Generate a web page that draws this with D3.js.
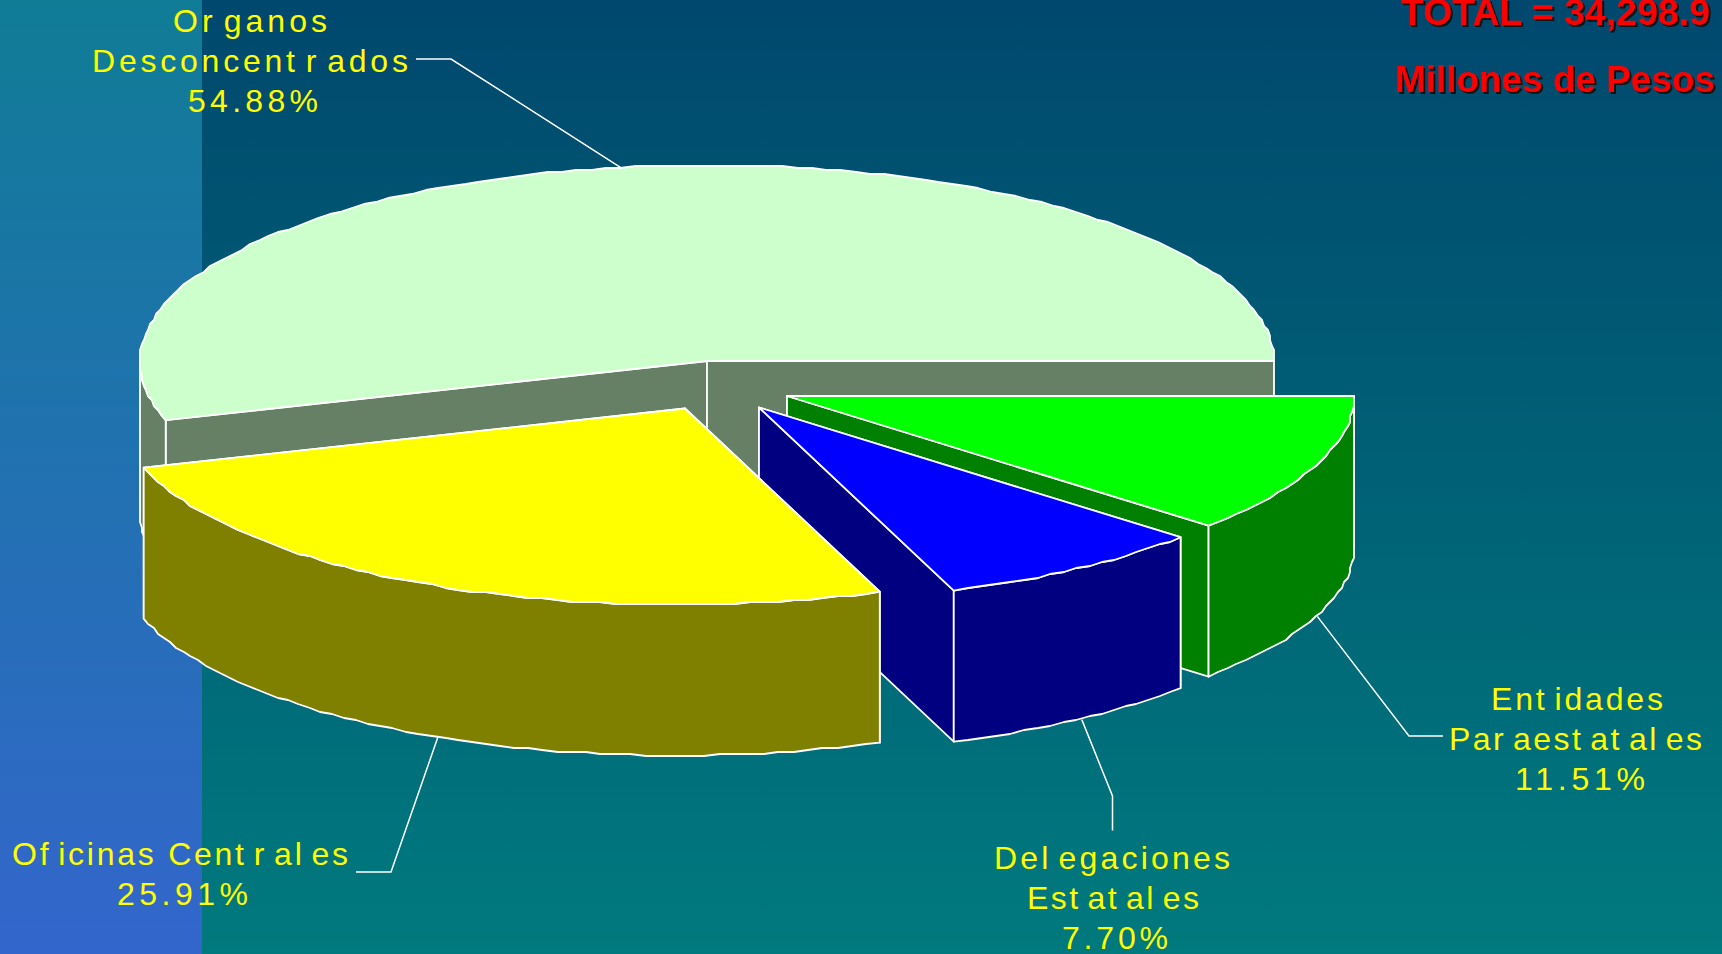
<!DOCTYPE html>
<html>
<head>
<meta charset="utf-8">
<script src="https://cdn.jsdelivr.net/npm/d3@7/dist/d3.min.js"></script>
<style>
html,body{margin:0;padding:0;background:#00607a;overflow:hidden}
svg{display:block}
text{font-family:"Liberation Sans",Arial,sans-serif}
</style>
</head>
<body>
<svg id="c" width="1722" height="954"></svg>
<script>
// ---- data ----
const categories = ["Organos Desconcentrados", "Oficinas Centrales", "Delegaciones Estatales", "Entidades Paraestatales"];
const shares = [54.88, 25.91, 7.70, 11.51];
const labelLines = [["Organos", "Desconcentrados", "54.88%"], ["Oficinas Centrales", "25.91%"], ["Delegaciones", "Estatales", "7.70%"], ["Entidades", "Paraestatales", "11.51%"]];
const titleLines = ["TOTAL = 34,298.9", "Millones de Pesos"];

// ---- styles and layout ----
const topColors = ["#ccffcc", "#ffff00", "#0000ff", "#00ff00"];
const wallColors = ["#668066", "#808000", "#000080", "#008000"];
const W = 1722, H = 954, RX = 567, RY = 196, DEPTH = 151, GRID = 2, STEP = 1.5, LOWER_SKEW = 8;
const centers = [[707, 361], [685, 408.5], [759, 407.5], [787, 396]];   // exploded slice apexes
const drawOrder = [0, 3, 2, 1];
const labelBoxes = [ // [x0, x1, baseline] for each line
  [[173, 327, 32], [92, 408, 72], [188, 318, 112]],
  [[12, 348, 865], [117, 248, 905]],
  [[994, 1230, 869], [1027, 1199, 909], [1062, 1168, 948.5]],
  [[1491, 1663, 710], [1449, 1702, 750], [1515, 1645, 790]]
];
const leaderElbows = [
  [[451, 59], [416, 59]],
  [[391, 872], [356, 872]],
  [[1112.5, 796], [1112.5, 830.5]],
  [[1409, 736], [1443, 736]]
];
const titleBoxes = [[1401, 1710, 25], [1395, 1715, 92]];

const svg = d3.select("#c");
const defs = svg.append("defs");

function vGrad(id, stops) {
  const g = defs.append("linearGradient").attr("id", id).attr("x1", 0).attr("y1", 0).attr("x2", 0).attr("y2", 1);
  stops.forEach(s => g.append("stop").attr("offset", s[0]).attr("stop-color", s[1]));
}
vGrad("bgMain", [[0, "#00486e"], [1, "#007a7e"]]);
vGrad("bgSide", [[0, "#107c96"], [1, "#3366cc"]]);

svg.append("rect").attr("width", W).attr("height", H).attr("fill", "url(#bgMain)");
svg.append("rect").attr("width", 202).attr("height", H).attr("fill", "url(#bgSide)");

// ---- slice angles from the data (counter-clockwise from east, seen on screen) ----
const arcs = d3.pie().sort(null).startAngle(0).endAngle(2 * Math.PI)(shares);

function pt(i, a, dz, skewAmount) {
  const c = centers[i], s = Math.sin(a);
  const k = skewAmount === undefined ? LOWER_SKEW : skewAmount;
  const skew = s < 0 ? k * s * s : 0;
  return [c[0] + RX * Math.cos(a) - skew, c[1] - RY * s + (dz || 0)];
}
const snap = v => Math.round(v / GRID) * GRID;
function rim(i, a0, a1, dz) {
  const n = Math.max(1, Math.round((a1 - a0) * 180 / Math.PI / STEP));
  return d3.range(n + 1).map(k => {
    const p = pt(i, a0 + (a1 - a0) * k / n, dz);
    const exact = k === 0 || k === n;
    return exact ? p : [snap(p[0]), snap(p[1])];
  });
}
const line = d3.line().curve(d3.curveLinear);
const closed = pts => line(pts) + "Z";

const pie = svg.append("g").attr("stroke", "#fff").attr("stroke-width", 1.8).attr("stroke-linejoin", "round");

drawOrder.forEach(i => {
  const a = arcs[i], a0 = a.startAngle, a1 = a.endAngle, c = centers[i];
  const g = pie.append("g").attr("class", "slice");
  const cBot = [c[0], c[1] + DEPTH];
  const end = pt(i, a1), start = pt(i, a0);
  [[end, pt(i, a1, DEPTH)], [start, pt(i, a0, DEPTH)]].forEach(f => {
    g.append("path").attr("d", closed([c, f[0], f[1], cBot])).attr("fill", wallColors[i]);
  });
  const w0 = Math.max(a0, Math.PI), w1 = Math.min(a1, 2 * Math.PI);
  if (w1 > w0) {
    const up = rim(i, w0, w1, 0), down = rim(i, w0, w1, DEPTH).reverse();
    g.append("path").attr("d", closed(up.concat(down))).attr("fill", wallColors[i]);
  }
  g.append("path").attr("d", closed([c].concat(rim(i, a0, a1, 0)))).attr("fill", topColors[i]);
});

// ---- leaders start at the middle of each slice's rim ----
const leaders = svg.append("g").attr("fill", "none").attr("stroke", "#fff").attr("stroke-width", 1.5);
arcs.forEach((a, i) => {
  const mid = (a.startAngle + a.endAngle) / 2;
  const from = pt(i, mid, Math.sin(mid) < 0 ? DEPTH : 0, 0);
  leaders.append("path").attr("d", line([from].concat(leaderElbows[i])));
});

// ---- labels: narrow letters keep a wider gap after them, as in the reference ----
const NARROW = new Set(["t", "l", "r", "f"]), EXTRA = 7;
const labels = svg.append("g").attr("fill", "#ffff00").attr("font-size", 32);
labelLines.forEach((lines, i) => {
  lines.forEach((t, j) => {
    const b = labelBoxes[i][j], chars = Array.from(t);
    const el = labels.append("text").attr("x", b[0]).attr("y", b[2]).text(t);
    const natural = el.node().getComputedTextLength();
    const bonus = k => (NARROW.has(chars[k - 1]) ? EXTRA : 0);
    const slack = (b[1] - b[0]) - natural - d3.sum(chars.slice(1), (_, k) => bonus(k + 1));
    const gap = slack / Math.max(1, chars.length - 1);
    el.attr("dx", chars.map((_, k) => k === 0 ? 0 : (gap + bonus(k)).toFixed(2)).join(" "));
  });
});

// ---- title ----
const title = svg.append("g").attr("fill", "#ff0000").attr("font-size", 36).attr("font-weight", "bold")
  .style("filter", "drop-shadow(2px 2px 0 #111)");
titleLines.forEach((t, i) => {
  const b = titleBoxes[i];
  title.append("text").attr("x", b[0]).attr("y", b[2])
    .attr("textLength", b[1] - b[0]).attr("lengthAdjust", "spacingAndGlyphs").text(t);
});
</script>
</body>
</html>
